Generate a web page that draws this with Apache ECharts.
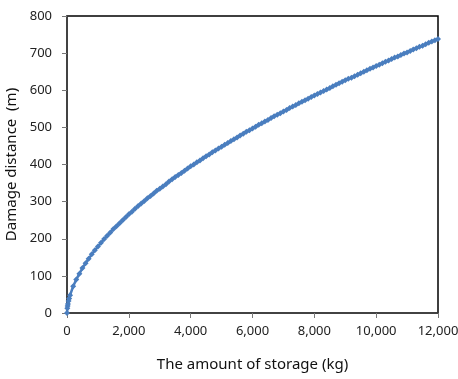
<!DOCTYPE html>
<html>
<head>
<meta charset="utf-8">
<script src="https://cdn.jsdelivr.net/npm/echarts@6/dist/echarts.min.js"></script>
<style>
  html, body { margin: 0; padding: 0; background: #fff; }
  #graph1 { width: 458px; height: 379px; }
</style>
</head>
<body>
<div id="graph1"></div>
<script>
// storage amount (kg)
const storage = [
  0, 10, 20, 30, 50, 70,
  100, 200, 300, 400, 500, 600, 700, 800, 900, 1000,
  1100, 1200, 1300, 1400, 1500, 1600, 1700, 1800, 1900, 2000,
  2100, 2200, 2300, 2400, 2500, 2600, 2700, 2800, 2900, 3000,
  3100, 3200, 3300, 3400, 3500, 3600, 3700, 3800, 3900, 4000,
  4100, 4200, 4300, 4400, 4500, 4600, 4700, 4800, 4900, 5000,
  5100, 5200, 5300, 5400, 5500, 5600, 5700, 5800, 5900, 6000,
  6100, 6200, 6300, 6400, 6500, 6600, 6700, 6800, 6900, 7000,
  7100, 7200, 7300, 7400, 7500, 7600, 7700, 7800, 7900, 8000,
  8100, 8200, 8300, 8400, 8500, 8600, 8700, 8800, 8900, 9000,
  9100, 9200, 9300, 9400, 9500, 9600, 9700, 9800, 9900, 10000,
  10100, 10200, 10300, 10400, 10500, 10600, 10700, 10800, 10900, 11000,
  11100, 11200, 11300, 11400, 11500, 11600, 11700, 11800, 11900, 12000,
]

// damage distance (m)
const distance = [
  0, 13, 19, 24, 32, 39,
  48, 72, 90, 106, 121, 134, 146, 158, 169, 179,
  189, 199, 208, 217, 226, 234, 242, 250, 258, 266,
  273, 281, 288, 295, 302, 309, 315, 322, 329, 335,
  341, 347, 354, 360, 366, 372, 377, 383, 389, 395,
  400, 406, 411, 417, 422, 427, 433, 438, 443, 448,
  453, 458, 463, 468, 473, 478, 483, 488, 492, 497,
  502, 507, 511, 516, 520, 525, 530, 534, 538, 543,
  547, 552, 556, 560, 565, 569, 573, 577, 582, 586,
  590, 594, 598, 602, 606, 611, 615, 619, 623, 627,
  631, 634, 638, 642, 646, 650, 654, 658, 661, 665,
  669, 673, 677, 680, 684, 688, 691, 695, 699, 702,
  706, 710, 713, 717, 720, 724, 728, 731, 735, 738,
]

const points = storage.map((kg, i) => [kg, distance[i]])

const labelFont = {
  fontFamily: 'Noto Sans',
  fontSize: 13,
  color: '#222',
}

echarts.init(document.getElementById('graph1')).setOption({
  animation: false,
  grid: {
    left: 67,
    right: 20,
    top: 16,
    bottom: 66,
    outerBoundsMode: 'none',
    containLabel: false,
    show: true,
    borderColor: '#000',
    borderWidth: 1.5,
  },
  xAxis: {
    type: 'value',
    min: 0,
    max: 12000,
    interval: 2000,
    name: 'The amount of storage (kg)',
    nameLocation: 'middle',
    nameGap: 44,
    nameTextStyle: {
      fontFamily: 'Noto Sans',
      fontSize: 15,
      color: '#111',
    },
    axisLine: { lineStyle: { color: '#444', width: 1.5 } },
    axisTick: { show: true, length: 5, lineStyle: { color: '#777' } },
    axisLabel: {
      ...labelFont,
      margin: 12,
      formatter: (v) => v.toLocaleString('en-US'),
    },
    splitLine: { show: false },
  },
  yAxis: {
    type: 'value',
    min: 0,
    max: 800,
    interval: 100,
    name: 'Damage distance  (m)',
    nameLocation: 'middle',
    nameGap: 43,
    nameTextStyle: {
      fontFamily: 'Noto Sans',
      fontSize: 15,
      color: '#111',
    },
    axisLine: { show: true, lineStyle: { color: '#444', width: 1.5 } },
    axisTick: { show: true, length: 5, lineStyle: { color: '#777' } },
    axisLabel: { ...labelFont, margin: 15 },
    splitLine: { show: false },
  },
  series: [
    {
      type: 'line',
      data: points,
      symbol: 'diamond',
      symbolSize: 6,
      showSymbol: true,
      lineStyle: { color: '#4a7ebf', width: 2.5 },
      itemStyle: { color: '#4a7ebf' },
    },
  ],
})
</script>
</body>
</html>
